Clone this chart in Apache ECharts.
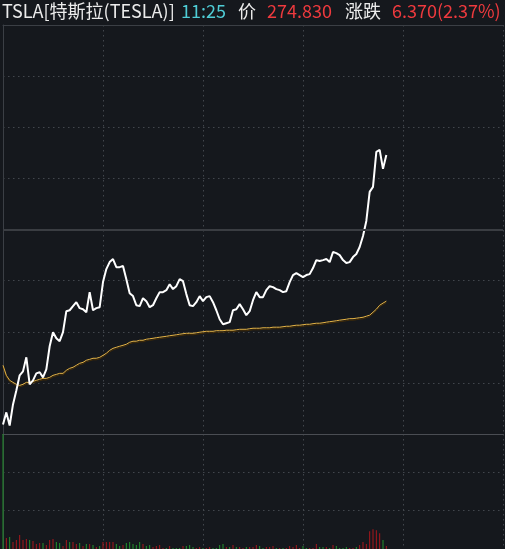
<!DOCTYPE html>
<html>
<head>
<meta charset="utf-8">
<style>
html,body{margin:0;padding:0;background:#15181d;}
#c{width:505px;height:549px;}
</style>
<script src="https://cdn.jsdelivr.net/npm/echarts@6/dist/echarts.min.js"></script>
</head>
<body>
<div id="c"></div>
<script>
// ---- data ----
const symbol = 'TSLA[特斯拉(TESLA)]';
const timeText = '11:25';
const priceLabel = '价';
const lastPriceText = '274.830';
const changeLabel = '涨跌';
const changeText = '6.370(2.37%)';
const prevClose = 268.46;
const totalMinutes = 150; // 9:30 - 12:00 axis span

const prices = [
  251.78,252.81,251.69,253.49,254.69,255.98,256.32,257.52,255.21,255.55,
  256.15,256.24,255.81,256.49,258.47,259.67,259.15,258.90,259.67,261.47,
  261.55,261.90,262.24,261.73,261.64,261.38,263.10,261.55,261.73,261.81,
  263.96,265.07,265.67,265.93,265.24,265.24,265.33,264.21,263.01,262.76,
  261.98,261.90,262.58,262.33,261.81,261.98,262.58,263.10,263.10,263.27,
  263.78,263.36,263.61,264.21,264.04,262.93,261.98,261.90,262.24,262.76,
  262.33,262.67,262.76,262.24,261.55,260.78,260.35,260.44,260.53,261.55,
  261.64,262.07,261.64,261.13,261.47,262.41,263.10,262.67,262.67,263.27,
  263.61,263.53,263.36,263.27,263.10,263.18,263.96,264.56,264.73,264.56,
  264.39,264.56,264.64,265.16,265.84,265.76,265.84,265.93,265.67,266.53,
  266.44,266.27,265.84,265.59,265.67,266.10,266.36,266.96,267.90,269.19,
  271.68,272.11,275.11,275.28,273.65,274.83
];
const avgPrices = [
  256.84,255.98,255.55,255.38,255.21,255.12,255.21,255.38,255.38,255.46,
  255.55,255.64,255.72,255.72,255.81,255.98,256.06,256.15,256.15,256.41,
  256.58,256.67,256.84,257.01,257.09,257.27,257.35,257.44,257.44,257.52,
  257.69,257.87,258.12,258.29,258.38,258.47,258.55,258.64,258.81,258.90,
  258.90,258.98,258.98,259.07,259.11,259.15,259.20,259.24,259.28,259.32,
  259.37,259.41,259.45,259.50,259.54,259.58,259.58,259.58,259.62,259.67,
  259.71,259.75,259.75,259.75,259.80,259.80,259.80,259.84,259.84,259.84,
  259.88,259.92,259.92,259.92,259.97,260.01,260.01,260.01,260.05,260.05,
  260.05,260.10,260.10,260.10,260.14,260.18,260.18,260.23,260.27,260.27,
  260.31,260.35,260.35,260.40,260.44,260.44,260.48,260.53,260.57,260.61,
  260.65,260.70,260.74,260.78,260.83,260.83,260.87,260.91,260.95,261.04,
  261.13,261.38,261.64,261.98,262.16,262.33
];
const volumes = [
  2320,220,240,140,180,280,180,200,180,160,
  100,120,120,80,180,200,140,120,60,180,
  140,140,100,120,60,100,100,80,40,60,
  140,140,140,140,100,60,80,120,140,100,
  80,140,100,60,80,40,60,80,20,20,
  60,20,20,20,60,60,80,40,20,40,
  20,20,40,20,20,80,100,40,40,80,
  40,40,20,40,40,40,80,60,20,40,
  40,60,20,20,20,20,60,40,80,20,
  60,20,20,20,100,40,40,40,20,80,
  60,20,20,40,20,20,40,80,140,100,
  360,400,380,320,180,60
];
// 1 = up minute (red), -1 = down minute (green)
const volumeDir = [
  -1,1,-1,1,1,1,1,1,-1,1,
  1,1,-1,1,1,1,-1,-1,1,1,
  -1,1,1,-1,1,-1,1,-1,1,-1,
  1,1,1,1,-1,-1,1,-1,-1,-1,
  -1,-1,1,-1,-1,1,1,1,1,-1,
  1,-1,-1,-1,1,-1,-1,-1,1,1,
  -1,1,1,-1,-1,-1,-1,1,-1,1,
  -1,1,1,-1,1,1,1,-1,-1,1,
  1,1,-1,1,-1,1,1,1,1,1,
  -1,-1,1,1,1,-1,-1,1,-1,1,
  -1,-1,-1,-1,1,1,-1,1,1,1,
  1,1,1,1,-1,1
];

// ---- chart ----
const priceHalfRange = 17.5;
const volMax = volumes[0];
const gridColor = '#42464d';
const axisColor = '#3b3f45';
const dotted = { color: gridColor, width: 1, type: [1.5, 3.5] };
const RED = '#a8161c', GREEN = '#22922c';

const chart = echarts.init(document.getElementById('c'), null, { renderer: 'canvas' });
const txt = (x, text, color) => ({
  type: 'text', left: x, top: 2,
  style: { text: text, fill: color, font: '18px "Noto Sans CJK SC", "Noto Sans", sans-serif' }
});

chart.setOption({
  animation: false,
  backgroundColor: '#15181d',
  graphic: [
    txt(2, symbol, '#ececec'),
    txt(181, timeText, '#4fcdd6'),
    txt(238, priceLabel, '#ececec'),
    txt(267, lastPriceText, '#ee3a3e'),
    txt(345, changeLabel, '#ececec'),
    txt(392, changeText, '#ee3a3e')
  ],
  grid: [
    { left: 3, right: 2, top: 25, height: 409 },
    { left: 3, right: 2, top: 434, height: 116 }
  ],
  xAxis: [
    { gridIndex: 0, type: 'value', min: 0, max: totalMinutes, interval: 30, position: 'top',
      axisLine: { show: true, onZero: false, lineStyle: { color: axisColor, width: 1 } },
      axisTick: { show: false }, axisLabel: { show: false },
      splitLine: { show: true, lineStyle: dotted } },
    { gridIndex: 1, type: 'value', min: 0, max: totalMinutes, interval: 30, position: 'top',
      axisLine: { show: true, onZero: false, lineStyle: { color: '#4a4d53', width: 1 } },
      axisTick: { show: false }, axisLabel: { show: false },
      splitLine: { show: true, lineStyle: dotted } }
  ],
  yAxis: [
    { gridIndex: 0, type: 'value', min: -priceHalfRange, max: priceHalfRange, interval: priceHalfRange / 4,
      axisLine: { show: true, lineStyle: { color: axisColor, width: 1 } },
      axisTick: { show: false }, axisLabel: { show: false },
      splitLine: { show: true, lineStyle: dotted } },
    { gridIndex: 1, type: 'value', min: 0, max: volMax, interval: volMax / 3,
      axisLine: { show: true, lineStyle: { color: axisColor, width: 1 } },
      axisTick: { show: false }, axisLabel: { show: false },
      splitLine: { show: true, lineStyle: dotted } }
  ],
  series: [
    { type: 'line', xAxisIndex: 0, yAxisIndex: 0, z: 3,
      data: avgPrices.map((p, i) => [i, +(p - prevClose).toFixed(3)]),
      showSymbol: false, silent: true,
      lineStyle: { color: '#e6b445', width: 1, shadowColor: 'rgba(70,45,5,0.95)', shadowBlur: 0, shadowOffsetY: 1.5 } },
    { type: 'line', xAxisIndex: 0, yAxisIndex: 0, z: 4,
      data: prices.map((p, i) => [i, +(p - prevClose).toFixed(3)]),
      showSymbol: false, silent: true,
      lineStyle: { color: '#ffffff', width: 2 },
      markLine: { silent: true, symbol: 'none', label: { show: false },
        lineStyle: { color: '#3a3d42', width: 2, type: 'solid' },
        data: [{ yAxis: 0 }] } },
    { type: 'bar', xAxisIndex: 1, yAxisIndex: 1, barWidth: 1, silent: true,
      data: volumes.map((v, i) => ({ value: [i, v], itemStyle: { color: volumeDir[i] > 0 ? RED : GREEN } })) }
  ]
});
</script>
</body>
</html>
